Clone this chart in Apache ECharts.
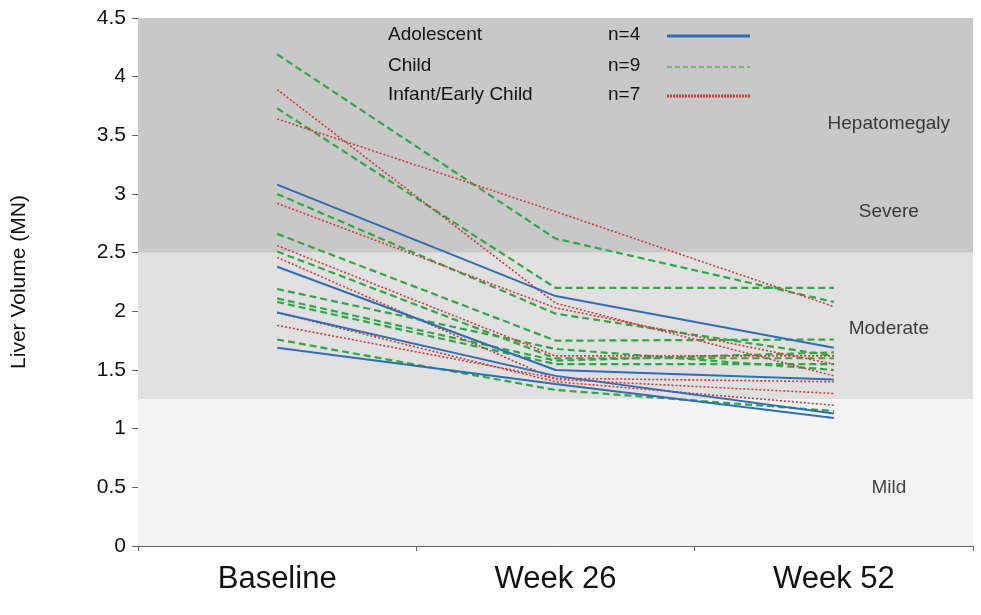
<!DOCTYPE html><html><head><meta charset="utf-8"><script src="https://cdn.jsdelivr.net/npm/echarts@6/dist/echarts.min.js"></script></head><body style="margin:0;background:#fff"><div id="c" style="width:981px;height:615px"></div><script>
const categories=['Baseline','Week 26','Week 52'];
const adolescent=[[3.08,2.13,1.69],[2.38,1.5,1.42],[1.99,1.45,1.13],[1.69,1.38,1.09]];
const child=[[4.19,2.62,2.08],[3.73,2.2,2.2],[3.0,1.98,1.62],[2.66,1.75,1.76],[2.51,1.6,1.6],[2.19,1.68,1.5],[2.11,1.58,1.65],[2.08,1.55,1.55],[1.76,1.33,1.15]];
const infant=[[3.89,2.07,1.45],[3.64,2.85,2.04],[2.92,2.03,1.55],[2.56,1.62,1.62],[2.46,1.42,1.3],[1.99,1.4,1.2],[1.88,1.43,1.4]];
const bands=[[2.5,4.5,'#c9c8c8'],[1.25,2.5,'#e1e0e0'],[0,1.25,'#f4f4f4']];
const bandLabels=[['Hepatomegaly',3.6],['Severe',2.85],['Moderate',1.85],['Mild',0.5]];
const series=[];
const mk=(arr,color,type,w)=>arr.forEach(d=>series.push({type:'line',data:d,symbol:'none',silent:true,lineStyle:{color,type,width:w}}));
series.push({type:'line',data:[],markArea:{silent:true,data:bands.map(b=>[{yAxis:b[0],itemStyle:{color:b[2]}},{yAxis:b[1]}])}});
series.push({type:'scatter',symbolSize:0,data:bandLabels.map(b=>['Week 52',b[1],b[0]]),label:{show:true,formatter:p=>p.data[2],color:'#111',fontSize:19,fontFamily:'Liberation Sans',offset:[55,0]}});
mk(child,'#2ea843',[7,4],2.2);
mk(infant,'#d23a3a',[2,2],1.6);
mk(adolescent,'#2f6db5','solid',2);
const ch=echarts.init(document.getElementById('c'));
const leg=(y,t,n,c,dash,w)=>{const ls={stroke:c,lineWidth:w};if(dash)ls.lineDash=dash;return [
 {type:'text',z:100,x:388,y:y-11,style:{text:t,fontSize:19,fontFamily:'Liberation Sans',fill:'#111'}},
 {type:'text',z:100,x:608,y:y-11,style:{text:n,fontSize:19,fontFamily:'Liberation Sans',fill:'#111'}},
 {type:'line',z:100,shape:{x1:667,y1:y,x2:750,y2:y},style:ls}];};
ch.setOption({animation:false,grid:{left:138,right:8,top:18,bottom:69},
xAxis:{type:'category',data:categories,boundaryGap:true,axisLine:{lineStyle:{color:'#666'}},axisTick:{show:true,lineStyle:{color:'#666'}},axisLabel:{fontSize:31,color:'#111',fontFamily:'Liberation Sans',margin:18}},
yAxis:{type:'value',min:0,max:4.5,interval:0.5,name:'Liver Volume (MN)',nameLocation:'middle',nameGap:108,nameTextStyle:{fontSize:21,color:'#111',fontFamily:'Liberation Sans'},axisLine:{show:true,lineStyle:{color:'#666'}},axisTick:{show:true,length:6,lineStyle:{color:'#666'}},splitLine:{show:false},axisLabel:{fontSize:21,color:'#111',fontFamily:'Liberation Sans',margin:12}},
series,
graphic:{elements:[...leg(36,'Adolescent','n=4','#2f6db5',null,3),...leg(67,'Child','n=9','#2ea843',[5,3],1.2),...leg(96,'Infant/Early Child','n=7','#d23a3a',[2,1],3)]}});
</script></body></html>
